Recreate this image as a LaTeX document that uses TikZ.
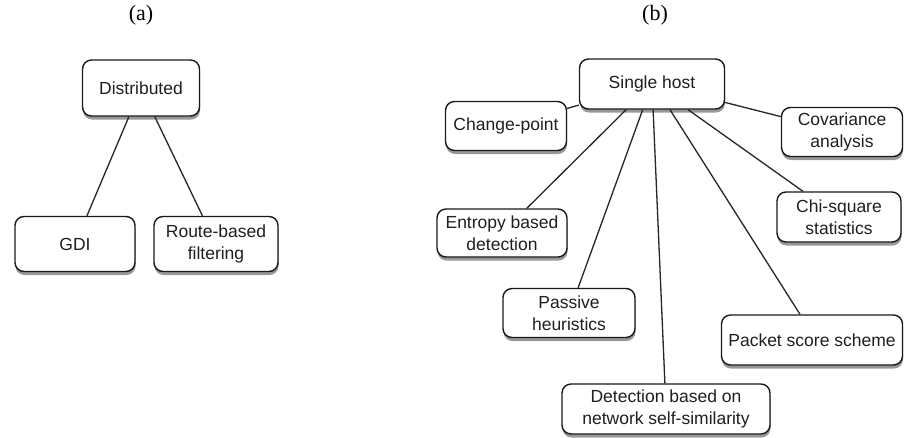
\documentclass[tikz,border=0pt]{standalone}
\usepackage{fontspec}
\setmainfont{Liberation Sans}
\newfontfamily\capfont{Liberation Serif}
\usetikzlibrary{shadows,calc}
\begin{document}
\begin{tikzpicture}[x=1pt,y=-1pt,
  box/.style={draw=black!90, line width=1.4pt, rounded corners=9pt, fill=white,
    align=center, inner sep=2pt, font=\fontsize{17.5}{21.5}\selectfont,
    text=black!88,
    drop shadow={shadow xshift=0.5pt, shadow yshift=-3.5pt, opacity=0.5, fill=black!80}},
  link/.style={draw=black!85, line width=1.3pt},
  panellabel/.style={font=\capfont\fontsize{22}{26}\selectfont}]
\useasboundingbox[fill=white] (0,0) rectangle (904,437);

% panel captions
\node[panellabel] (capa) at (141,15) {(a)};
\node[panellabel] (capb) at (655,15) {(b)};

% (a) distributed schemes
\node[box, minimum width=117pt, minimum height=56pt] (dist) at (141,88) {Distributed};
\node[box, minimum width=120pt, minimum height=55pt] (gdi) at (75,244) {GDI};
\node[box, minimum width=124pt, minimum height=55pt] (route) at (216,244) {Route-based\\filtering};

\draw[link] (dist) -- (gdi);
\draw[link] (dist) -- (route);

% (b) single-host schemes
\node[box, minimum width=145pt, minimum height=50pt] (host) at (652,84) {Single host};
\node[box, minimum width=121pt, minimum height=49pt] (chg) at (506,126) {Change-point};
\node[box, minimum width=121pt, minimum height=49pt] (cov) at (842,132) {Covariance\\analysis};
\node[box, minimum width=124pt, minimum height=50pt] (chi) at (839,217) {Chi-square\\statistics};
\node[box, minimum width=130pt, minimum height=48pt] (ent) at (502,233) {Entropy based\\detection};
\node[box, minimum width=132pt, minimum height=49pt] (pas) at (569,313) {Passive\\heuristics};
\node[box, minimum width=181pt, minimum height=50pt] (pkt) at (812,340) {Packet score scheme};
\node[box, minimum width=208pt, minimum height=50pt] (self) at (666,409) {Detection based on\\network self-similarity};

\draw[link] (host) -- (chg);
\draw[link] (host) -- (cov);
\draw[link] (host) -- (ent);
\draw[link] (host) -- (pas);
\draw[link] (host) -- (self);
\draw[link] ($(host.south)+(18,0)$) -- ($(pkt.north)+(-12,0)$);
\draw[link] (host) -- (chi);
\end{tikzpicture}
\end{document}
